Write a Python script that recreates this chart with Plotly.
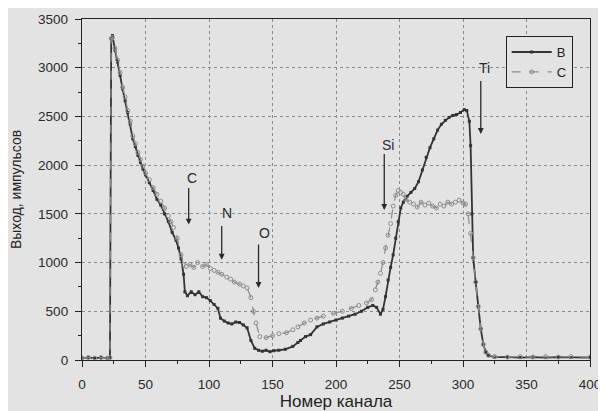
import plotly.graph_objects as go

# Channel numbers and yields
ch_b = [0, 5, 10, 15, 20, 22, 23, 24, 26, 28, 30, 32, 34, 36, 38, 40, 42, 44, 46, 48,
        50, 53, 56, 59, 62, 65, 68, 71, 74, 76, 78, 80, 81, 83, 86, 89, 92, 95, 98, 101,
        104, 107, 109, 112, 115, 118, 121, 124, 127, 130, 133, 136, 139, 142, 145, 148, 151, 155, 160, 166,
        170, 172, 176, 180, 185, 190, 195, 200, 205, 210, 215, 220, 225, 229, 232, 235, 237, 239, 241, 243,
        245, 247, 249, 251, 253, 256, 259, 262, 265, 268, 271, 274, 277, 280, 283, 286, 289, 292, 295, 298,
        301, 303, 305, 306, 307, 308, 310, 312, 314, 316, 318, 320, 325, 335, 345, 355, 365, 375, 385, 400]
val_b = [20, 25, 20, 25, 20, 25, 3300, 3330, 3180, 3060, 2920, 2780, 2660, 2540, 2420, 2270, 2190, 2100, 2030, 1960,
         1900, 1820, 1740, 1650, 1590, 1500, 1420, 1310, 1230, 1150, 1040, 880, 700, 660, 700, 670, 700, 650, 640, 610,
         570, 530, 430, 400, 380, 370, 390, 385, 360, 330, 200, 120, 100, 90, 100, 85, 95, 100, 110, 140,
         180, 200, 240, 260, 340, 370, 390, 410, 430, 450, 470, 500, 540, 560, 540, 470, 520, 650, 820, 950,
         1080, 1250, 1420, 1560, 1620, 1680, 1720, 1760, 1830, 1950, 2080, 2180, 2270, 2360, 2420, 2460, 2490, 2510, 2520, 2540,
         2570, 2560, 2450, 2200, 1500, 1050, 800, 550, 320, 160, 80, 45, 30, 30, 25, 30, 25, 30, 25, 25]

ch_c = [0, 5, 10, 15, 20, 22, 23, 24, 26, 28, 30, 32, 34, 36, 38, 40, 42, 44, 46, 48,
        50, 53, 56, 59, 62, 65, 68, 70, 72, 75, 78, 80, 82, 85, 88, 91, 95, 98, 101, 104,
        107, 110, 114, 117, 120, 124, 127, 130, 133, 135, 137, 140, 145, 150, 155, 161, 166, 170, 175, 180,
        185, 190, 198, 205, 212, 218, 224, 228, 231, 233, 235, 237, 239, 241, 243, 245, 247, 249, 251, 253,
        255, 258, 261, 264, 267, 270, 273, 276, 279, 282, 285, 288, 291, 294, 297, 300, 302, 304, 306, 308,
        310, 312, 314, 316, 318, 320, 325, 335, 345, 355, 365, 375, 385, 400]
val_c = [20, 25, 20, 25, 20, 25, 3300, 3310, 3200, 3080, 2950, 2800, 2700, 2560, 2450, 2300, 2220, 2130, 2060, 1990,
         1920, 1850, 1770, 1700, 1630, 1560, 1480, 1420, 1360, 1250, 1080, 980, 960, 980, 950, 1000, 960, 980, 940, 920,
         900, 880, 850, 830, 800, 780, 760, 740, 640, 500, 380, 240, 230, 250, 270, 280, 310, 340, 380, 410,
         430, 450, 480, 500, 530, 560, 585, 620, 720, 800, 890, 1000, 1150, 1280, 1400, 1580, 1690, 1740, 1720, 1700,
         1650, 1620, 1600, 1570, 1620, 1590, 1610, 1580, 1560, 1600, 1580, 1620, 1600, 1620, 1640, 1610, 1600, 1500, 1300, 1050,
         800, 550, 320, 160, 80, 50, 35, 30, 35, 30, 35, 30, 35, 30]

x_ticks = [0, 50, 100, 150, 200, 250, 300, 350, 400]
y_ticks = [0, 500, 1000, 1500, 2000, 2500, 3000, 3500]

# element labels: text, arrow channel, arrow tip y, arrow tail y, label channel, label y
labels = ["C", "N", "O", "Si", "Ti"]
label_ch = [84, 110, 139, 238, 314]
tip_y = [1390, 1030, 740, 1540, 2320]
tail_y = [1780, 1390, 1200, 2130, 2880]
text_ch = [87, 114, 144, 241, 317]
text_y = [1870, 1510, 1300, 2210, 3000]

BG = "#e3e3e3"
FONT = "Liberation Sans"
fig = go.Figure()
fig.add_trace(go.Scatter(x=ch_b, y=val_b, name="B", mode="lines+markers",
                         line=dict(color="#333333", width=1.8),
                         marker=dict(symbol="square", size=3, color="#333333")))
fig.add_trace(go.Scatter(x=ch_c, y=val_c, name="C", mode="lines+markers",
                         line=dict(color="#8c8c8c", width=1.2, dash="dash"),
                         marker=dict(symbol="circle-open", size=4, color="#8c8c8c")))

for t, xc, ty, ta, xt, yt in zip(labels, label_ch, tip_y, tail_y, text_ch, text_y):
    fig.add_annotation(x=xc, y=ty, ax=xc, ay=ta, axref="x", ayref="y", text="",
                       showarrow=True, arrowhead=2, arrowsize=0.9, arrowwidth=1.3,
                       arrowcolor="#2a2a2a")
    fig.add_annotation(x=xt, y=yt, text=t, showarrow=False,
                       font=dict(size=14, color="#2a2a2a", family=FONT))

axis_common = dict(showline=True, linecolor="#222", linewidth=1.3, mirror=True,
                   ticks="outside", ticklen=6, tickcolor="#222", automargin=False,
                   showgrid=True, gridcolor="#8a8a8a", griddash="dot", gridwidth=1,
                   zeroline=False, tickfont=dict(size=13.5, color="#2a2a2a", family=FONT))

fig.update_xaxes(range=[0, 400], tickvals=x_ticks, ticktext=[str(v) for v in x_ticks],
                 ticklabelstandoff=6,
                 minor=dict(ticks="outside", ticklen=3, dtick=25, tickcolor="#222", showgrid=False),
                 title=dict(text="Номер канала", font=dict(size=17, color="#222", family=FONT),
                            standoff=2),
                 **axis_common)
fig.update_yaxes(range=[0, 3500], tickvals=y_ticks, ticktext=[str(v) for v in y_ticks],
                 ticklabelstandoff=4,
                 minor=dict(ticks="outside", ticklen=3, dtick=250, tickcolor="#222", showgrid=False),
                 title=dict(text="Выход, импульсов", font=dict(size=14, color="#222", family=FONT),
                            standoff=14),
                 **axis_common)

fig.update_layout(width=598, height=403, margin=dict(l=74, r=16, t=11, b=51),
                  paper_bgcolor=BG, plot_bgcolor=BG,
                  font=dict(family=FONT, color="#222"),
                  legend=dict(x=0.834, y=0.95, xanchor="left", yanchor="top",
                              bgcolor=BG, bordercolor="#222", borderwidth=1,
                              font=dict(size=13, color="#222"), tracegroupgap=0,
                              itemwidth=40))
fig.write_html("out.html")
